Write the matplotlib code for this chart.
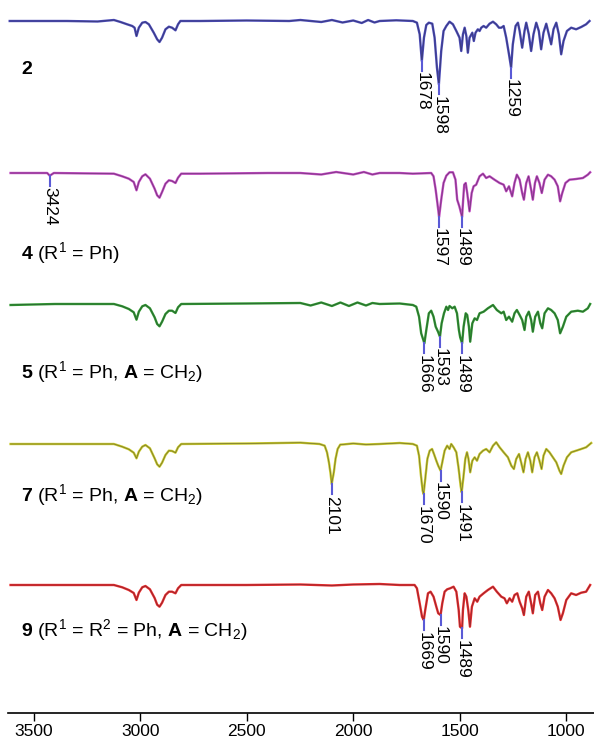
"""Stacked FT-IR spectra of resin-bound compounds 2, 4, 5, 7 and 9 with labelled bands."""
import numpy as np
import matplotlib
matplotlib.use("Agg")
import matplotlib.pyplot as plt

plt.rcParams["font.family"] = ["Liberation Sans", "DejaVu Sans"]
plt.rcParams["mathtext.fontset"] = "custom"
plt.rcParams["mathtext.rm"] = "Liberation Sans"
plt.rcParams["mathtext.it"] = "Liberation Sans:italic"
plt.rcParams["mathtext.bf"] = "Liberation Sans:bold"

# ---- data: wavenumber (cm-1) / relative transmittance ----
WN_2 = [3612, 3342, 3200, 3123, 3092, 3061, 3037, 3026, 3017, 3006, 2990, 2975, 2959,
        2936, 2920, 2909, 2897, 2881, 2865, 2850, 2834, 2822, 2811, 2717, 2500, 2300,
        2248, 2150, 2100, 2050, 2000, 1960, 1930, 1900, 1876, 1798, 1720, 1701, 1688,
        1678, 1668, 1657, 1645, 1629, 1618, 1607, 1598, 1587, 1576, 1563, 1548, 1532,
        1516, 1501, 1493, 1485, 1477, 1469, 1462, 1454, 1441, 1434, 1426, 1415, 1407,
        1399, 1388, 1376, 1360, 1344, 1329, 1316, 1305, 1294, 1282, 1269, 1259, 1251,
        1238, 1227, 1219, 1207, 1196, 1188, 1176, 1165, 1154, 1141, 1129, 1118, 1107,
        1094, 1082, 1071, 1060, 1047, 1035, 1024, 1013, 997, 977, 954, 930, 907, 891]
TR_2 = [100, 100, 99.5, 101, 99, 96.7, 95, 93.3, 85, 93.3, 98.3, 99, 96.7,
        88.3, 81.7, 79, 83.3, 91.7, 94.3, 93.3, 90.7, 96.7, 100, 100, 100.5, 100,
        101, 99, 101, 98.5, 100.5, 98, 101, 98.5, 100, 100.7, 100, 98.3, 86.7,
        60, 83.3, 96, 98.3, 97.3, 83.3, 53.3, 36.7, 70, 90, 95, 99.3, 96.7,
        90, 83.3, 70, 86.7, 93.3, 85, 68.3, 83.3, 88.3, 80, 88.3, 91.7, 90,
        93.3, 95, 93.3, 97.3, 99.3, 96.7, 93.3, 93.3, 95, 83.3, 66.7, 53.3, 76.7,
        95, 98.3, 90, 73.3, 90, 98.3, 86.7, 70, 86.7, 98.3, 90, 71.7, 88.3,
        97.3, 86.7, 76.7, 91.7, 98.3, 86.7, 66.7, 80, 90, 93.3, 91.7, 94, 96.7, 100]

WN_4 = [3608, 3436, 3424, 3405, 3123, 3084, 3053, 3030, 3017, 3006, 2990, 2975, 2954,
        2932, 2920, 2909, 2897, 2881, 2865, 2850, 2834, 2822, 2807, 2717, 2400, 2248,
        2150, 2080, 2000, 1950, 1910, 1876, 1782, 1720, 1634, 1623, 1613, 1604, 1597,
        1587, 1576, 1563, 1548, 1532, 1520, 1512, 1502, 1489, 1484, 1479, 1472, 1465,
        1454, 1444, 1435, 1423, 1407, 1391, 1376, 1360, 1337, 1313, 1294, 1282, 1269,
        1254, 1243, 1232, 1219, 1207, 1199, 1188, 1177, 1165, 1157, 1147, 1138, 1126,
        1115, 1102, 1086, 1071, 1055, 1040, 1029, 1019, 1004, 985, 954, 922, 899, 888]
TR_4 = [100, 100, 97.3, 100, 99.3, 96.7, 94.3, 91, 82.7, 91, 96.7, 98.7, 94.3,
        84.3, 77.7, 75.3, 81, 89.3, 92.7, 92, 90, 95.3, 99.3, 99.3, 100, 100,
        98.5, 101, 98.5, 101, 98.5, 100, 100, 99.3, 100, 96.7, 83.3, 68.3, 56,
        73.3, 90, 97.3, 100.7, 100.7, 93.3, 73.3, 66.7, 56, 73.3, 88.3, 90, 80,
        61.7, 80, 86.7, 88.3, 96.7, 99.3, 95, 96.7, 93.3, 90, 88.3, 81.7, 86.7,
        76.7, 90, 98.3, 93.3, 80, 73.3, 90, 96.7, 83.3, 73.3, 90, 96.7, 90,
        80, 93.3, 98.3, 96.7, 93.3, 86.7, 71.7, 80, 90, 93.3, 94, 95, 98.3, 100.7]

WN_5 = [3608, 3400, 3123, 3084, 3053, 3030, 3017, 3006, 2990, 2975, 2954, 2932, 2920,
        2909, 2897, 2881, 2865, 2850, 2834, 2822, 2807, 2500, 2248, 2200, 2150, 2100,
        2060, 2020, 1980, 1940, 1910, 1876, 1782, 1720, 1704, 1691, 1681, 1666, 1657,
        1645, 1634, 1623, 1613, 1602, 1593, 1585, 1574, 1563, 1555, 1548, 1535, 1524,
        1513, 1504, 1498, 1489, 1482, 1472, 1465, 1457, 1451, 1441, 1430, 1419, 1407,
        1388, 1368, 1344, 1326, 1305, 1294, 1282, 1269, 1254, 1243, 1232, 1219, 1207,
        1196, 1188, 1176, 1165, 1157, 1146, 1133, 1122, 1113, 1102, 1086, 1071, 1055,
        1040, 1029, 1016, 1000, 977, 946, 922, 899, 888]
TR_5 = [99, 100, 100, 97.7, 95, 91.7, 84.3, 92.3, 97.7, 99, 95.7, 86.7, 80,
        77.7, 82.3, 90, 93.3, 93.3, 91, 96.7, 100, 100.5, 101, 98.5, 101.5, 98,
        101.5, 98, 101.5, 98.5, 101, 100, 100.5, 99, 97.3, 87.3, 70.7, 60.7, 74,
        90.7, 93.3, 87.3, 77.3, 72.3, 67.3, 80.7, 90.7, 97.3, 94, 98, 95.7, 97.3,
        90.7, 74, 66.7, 60.7, 77.3, 90.7, 89, 77.3, 62.3, 80.7, 85.7, 84, 90.7,
        92.3, 95.7, 99, 94, 90.7, 92.3, 84, 87.3, 82.3, 90.7, 94, 89, 84,
        74, 87.3, 92.3, 84, 72.3, 87.3, 92.3, 80.7, 75.7, 90.7, 95.7, 94, 90.7,
        84, 70.7, 77.3, 87.3, 92.3, 93.3, 92.3, 95.7, 100]

WN_7 = [3608, 3400, 3123, 3084, 3053, 3030, 3017, 3006, 2990, 2975, 2954, 2932, 2920,
        2909, 2897, 2881, 2865, 2850, 2834, 2822, 2807, 2500, 2248, 2158, 2134, 2123,
        2114, 2106, 2101, 2091, 2083, 2073, 2061, 2000, 1940, 1876, 1782, 1720, 1701,
        1691, 1682, 1674, 1670, 1662, 1652, 1641, 1630, 1621, 1610, 1601, 1590, 1582,
        1571, 1559, 1548, 1540, 1529, 1516, 1505, 1496, 1491, 1482, 1474, 1466, 1459,
        1451, 1441, 1430, 1419, 1407, 1391, 1376, 1360, 1344, 1329, 1313, 1294, 1274,
        1258, 1246, 1235, 1222, 1212, 1201, 1191, 1180, 1169, 1160, 1149, 1138, 1126,
        1116, 1107, 1094, 1079, 1063, 1047, 1032, 1024, 1013, 997, 977, 954, 930, 907, 883]
TR_7 = [100, 100, 100, 97.3, 94.7, 91.3, 85.7, 92.3, 97.3, 99, 95.7, 85.7, 79.7,
        77.3, 81.3, 89, 93.3, 93, 91.3, 96.7, 100, 100.5, 101.3, 100, 98.3, 91.7,
        81.7, 70, 60, 71.7, 85, 95, 99.3, 100.5, 99.5, 100, 101, 100, 98.3,
        88.3, 68.3, 53.3, 50, 65, 85, 93.3, 95, 90, 83.3, 78.3, 73.3, 81.7,
        93.3, 98.3, 95, 100, 96.7, 91.7, 75, 58.3, 51.7, 68.3, 85, 91.7, 85,
        71.7, 83.3, 86.7, 83.3, 90, 93.3, 95, 91.7, 98.3, 101.7, 96.7, 91.7, 86.7,
        78.3, 75, 85, 90, 81.7, 71.7, 85, 91.7, 83.3, 71.7, 86.7, 91.7, 83.3,
        75, 88.3, 95, 91.7, 86.7, 81.7, 73.3, 70, 78.3, 86.7, 91.7, 93.3, 95, 96.7, 101]

WN_9 = [3608, 3400, 3123, 3084, 3053, 3030, 3017, 3006, 2990, 2975, 2954, 2932, 2920,
        2909, 2897, 2881, 2865, 2850, 2834, 2822, 2807, 2500, 2248, 2100, 2000, 1876,
        1782, 1712, 1701, 1688, 1677, 1669, 1662, 1649, 1637, 1623, 1610, 1601, 1590,
        1582, 1571, 1559, 1545, 1529, 1516, 1505, 1499, 1489, 1485, 1477, 1469, 1460,
        1452, 1443, 1430, 1418, 1407, 1388, 1368, 1344, 1326, 1305, 1290, 1279, 1266,
        1254, 1243, 1230, 1219, 1207, 1199, 1188, 1176, 1165, 1157, 1146, 1133, 1122,
        1113, 1102, 1086, 1071, 1055, 1040, 1027, 1016, 1000, 977, 954, 930, 907, 888]
TR_9 = [100, 100, 100, 97.7, 95, 92, 85, 92.3, 97.7, 99, 95.7, 87, 80.3,
        78.3, 82.3, 90, 93.3, 93.3, 91.7, 96.7, 100, 100, 100.5, 99.5, 100.5, 101,
        100, 100, 96.7, 81.7, 68.3, 65, 75, 91.7, 93.3, 88.3, 78.3, 71.7, 70,
        81.7, 93.3, 95.7, 96.7, 98.3, 93.3, 75, 58.3, 56.7, 75, 91.7, 88.3, 75,
        58.3, 78.3, 86.7, 83.3, 88.3, 91.7, 95, 98.3, 93.3, 88.3, 86.7, 81.7, 86.7,
        83.3, 90, 91.7, 83.3, 76.7, 70, 88.3, 93.3, 81.7, 71.7, 90, 93.3, 81.7,
        75, 88.3, 95, 91.7, 86.7, 78.3, 65, 71.7, 85, 91.7, 90, 92.3, 93.3, 100]

PEAKS_2 = [1678, 1598, 1259]
PEAKS_4 = [3424, 1597, 1489]
PEAKS_5 = [1666, 1593, 1489]
PEAKS_7 = [2101, 1670, 1590, 1491]
PEAKS_9 = [1669, 1590, 1489]

LABELS = [r"$\mathbf{2}$",
          r"$\mathbf{4}$ (R$^{1}$ = Ph)",
          r"$\mathbf{5}$ (R$^{1}$ = Ph, $\mathbf{A}$ = CH$_{2}$)",
          r"$\mathbf{7}$ (R$^{1}$ = Ph, $\mathbf{A}$ = CH$_{2}$)",
          r"$\mathbf{9}$ (R$^{1}$ = R$^{2}$ = Ph, $\mathbf{A}$ = CH$_{2}$)"]

# ---- layout / style ----
OFFSETS = [592, 440, 309, 169, 28]          # vertical stacking of the traces
LABEL_Y = [643, 460, 341, 218, 83]          # compound label centres
COLORS = ["#4a4ab8", "#c048c0", "#2f9a2f", "#c8c828", "#ec2a2a"]
TICK_COLOR = "#5a5ad6"
TICK_LEN = 10

fig = plt.figure(figsize=(5.94, 7.38), dpi=100)
ax = fig.add_axes([8 / 594, 25 / 738, 586 / 594, 713 / 738])

traces = [(WN_2, TR_2, PEAKS_2), (WN_4, TR_4, PEAKS_4), (WN_5, TR_5, PEAKS_5),
          (WN_7, TR_7, PEAKS_7), (WN_9, TR_9, PEAKS_9)]

for (wn, tr, peaks), off, color, label, ly in zip(traces, OFFSETS, COLORS, LABELS, LABEL_Y):
    wn = np.asarray(wn, float)
    y = np.asarray(tr, float) + off
    ax.plot(wn, y, color=color, lw=1.7, solid_joinstyle="round")
    ax.plot(wn, y, color="#2a2a3a", lw=0.5, alpha=0.55)
    for p in peaks:
        y0 = np.interp(p, wn[::-1], y[::-1])
        ax.plot([p, p], [y0, y0 - TICK_LEN], color=TICK_COLOR, lw=1.5)
        ax.text(p, y0 - TICK_LEN - 1.5, str(p), rotation=-90, rotation_mode="anchor",
                ha="left", va="center", fontsize=12.5, color="black")
    ax.text(3558, ly, label, ha="left", va="center", fontsize=14)

ax.set_xlim(3620, 870)
ax.set_ylim(0, 713)
ax.set_yticks([])
ax.set_xticks([3500, 3000, 2500, 2000, 1500, 1000])
ax.tick_params(axis="x", direction="out", length=6, width=1, labelsize=12.5, pad=2)
for side in ["top", "right", "left"]:
    ax.spines[side].set_visible(False)
ax.spines["bottom"].set_linewidth(1.2)

fig.savefig("out.png", dpi=100)
